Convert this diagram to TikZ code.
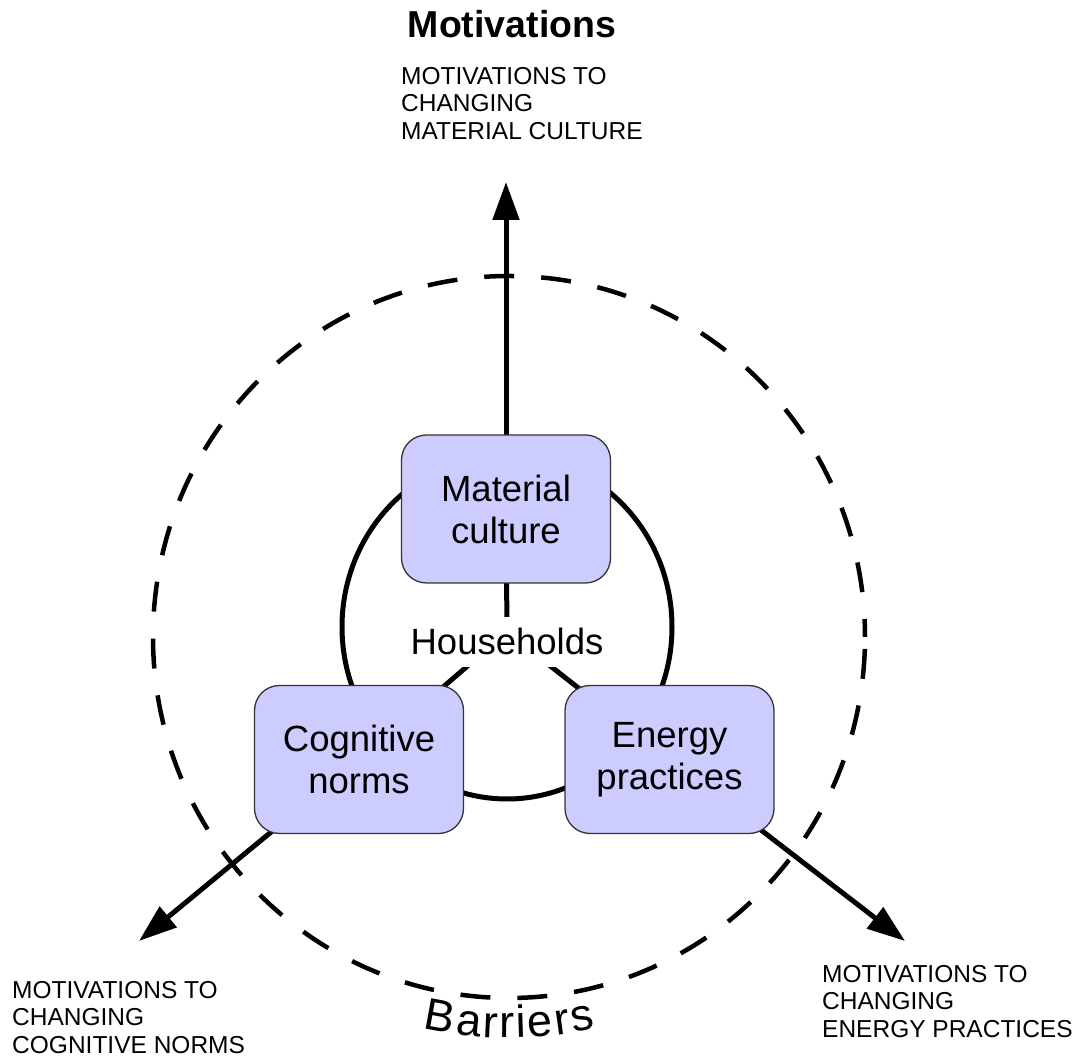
\documentclass[tikz,border=0pt]{standalone}
\usepackage{fontspec}
\setmainfont{Liberation Sans}
\usetikzlibrary{arrows.meta,backgrounds,decorations.text,calc}
\definecolor{boxfill}{HTML}{CCCCFF}
\begin{document}
\begin{tikzpicture}[x=1pt,y=1pt,
  domainbox/.style={draw=black!80, line width=1.3pt, fill=boxfill,
    rounded corners=25pt, minimum width=209pt, minimum height=148pt,
    align=center, inner sep=0pt, font=\fontsize{36.5}{42}\selectfont},
  hhlabel/.style={fill=white, inner xsep=6pt, inner ysep=12pt,
    font=\fontsize{36.5}{42}\selectfont},
  capslabel/.style={align=left, inner sep=0pt, anchor=north west,
    font=\fontsize{24.5}{27.5}\selectfont},
  spoke/.style={line width=5pt},
  motiv/.style={line width=5pt, -{Triangle[width=26pt,length=38pt]}},
  ring/.style={line width=5pt},
  barrier/.style={line width=4.5pt, dash pattern=on 30pt off 27pt, dash phase=12pt}]
\useasboundingbox (0,0) rectangle (1088,1059);

% centres of the two rings and the meeting point of the spokes
\coordinate (dc) at (509,422);
\coordinate (sc) at (507,432);
\coordinate (hub) at (507,427);

% the three domains and the household label
\node[domainbox] (mat) at (506,550) {Material\\culture};
\node[domainbox] (cog) at (359,299.5) {Cognitive\\norms};
\node[domainbox] (ene) at (669.5,299.5) {Energy\\practices};
\node[hhlabel, anchor=base] (hh) at (507,404) {Households};

% arrow tips
\coordinate (tipM) at (506,877);
\coordinate (tipC) at (139,118);
\coordinate (tipE) at (905,118);

% titles and arrow labels
\node[anchor=base, font=\fontsize{37.5}{40}\selectfont\bfseries] (title) at (512,1021) {Motivations};
\node[capslabel] (labM) at (401,992) {MOTIVATIONS TO\\CHANGING\\MATERIAL CULTURE};
\node[capslabel] (labC) at (12,78) {MOTIVATIONS TO\\CHANGING\\COGNITIVE NORMS};
\node[capslabel] (labE) at (822,94) {MOTIVATIONS TO\\CHANGING\\ENERGY PRACTICES};

\begin{pgfonlayer}{background}
  % household ring and barrier ring
  \draw[ring] (sc) ellipse [x radius=165, y radius=172];
  \draw[barrier] (dc) ellipse [x radius=356, y radius=361];
  % spokes from the household hub
  \draw[spoke] (hub) -- (mat.center);
  \draw[spoke] (hub) -- (cog.center);
  \draw[spoke] (hub) -- (ene.center);
  % motivation arrows
  \draw[motiv] (mat.center) -- (tipM);
  \draw[motiv] (cog.center) -- (tipC);
  \draw[motiv] (ene.center) -- (tipE);
\end{pgfonlayer}

% curved label under the barrier ring, spread along its arc
\path[decorate, decoration={text effects along path, text={Barriers},
    text effects/.cd, text along path, fit text to path,
    characters={font=\fontsize{45}{45}\selectfont}}]
  ([shift={(257.5:401)}]dc) arc[start angle=257.5, end angle=282.5, radius=401];
\end{tikzpicture}
\end{document}
